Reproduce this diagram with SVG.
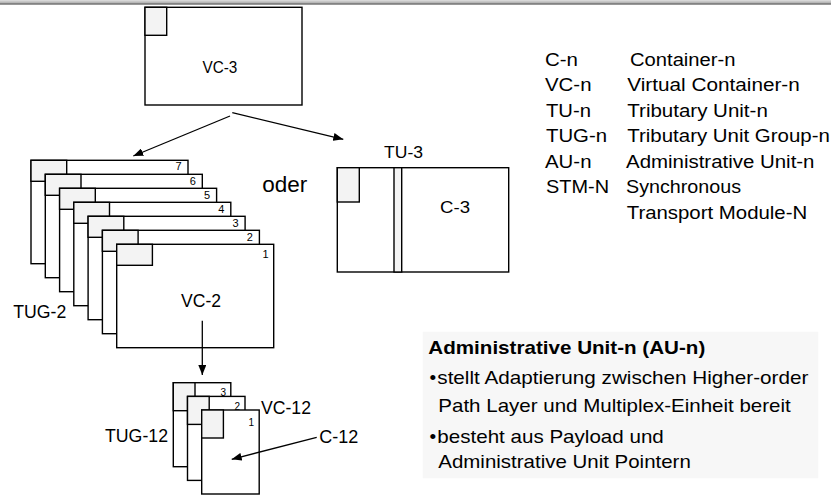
<svg xmlns="http://www.w3.org/2000/svg" xmlns:xlink="http://www.w3.org/1999/xlink" width="831" height="496" viewBox="0 0 831 496">
<style>
.frame{fill:#fff;stroke:#000;stroke-width:1.4}
.ptr{fill:#f3f3f3;stroke:#000;stroke-width:1.4}
.t{font-family:"Liberation Sans",Arial,sans-serif;fill:#000}
.num{font-family:"Liberation Sans",Arial,sans-serif;fill:#000;text-anchor:end}
.conn{stroke:#000;stroke-width:1.3;fill:none;marker-end:url(#ah)}
</style>
<defs>
<linearGradient id="topbar" x1="0" y1="0" x2="0" y2="1">
<stop offset="0" stop-color="#e0e0e0"/>
<stop offset="1" stop-color="#a8a8a8"/>
</linearGradient>
<marker id="ah" markerUnits="userSpaceOnUse" markerWidth="10" markerHeight="8" refX="10" refY="4" orient="auto">
<path d="M0,0 L10,4 L0,8 z" fill="#000"/>
</marker>
<g id="vc2f"><rect class="frame" x="0" y="0" width="157" height="103.4"/><rect class="ptr" x="0" y="0" width="35.7" height="21"/></g>
<g id="vc12f"><rect class="frame" x="0" y="0" width="57.5" height="84"/><rect class="ptr" x="0" y="0" width="21.7" height="28"/></g>
</defs>
<rect x="0" y="0" width="831" height="3.5" fill="url(#topbar)"/>
<line x1="0" y1="4" x2="831" y2="4" stroke="#333" stroke-width="1"/>

<g id="vc3">
<rect class="frame" x="145" y="7.3" width="157" height="97.7"/>
<rect class="ptr" x="145" y="7.3" width="21.7" height="28"/>
<text class="t" transform="translate(202.5,73) scale(0.9,1)" x="0" y="0" font-size="17">VC-3</text>
</g>

<g id="tu3">
<rect class="frame" x="337.3" y="167.7" width="171.4" height="104.3"/>
<rect class="ptr" x="337.3" y="167.7" width="22" height="34.3"/>
<rect class="ptr" x="394" y="167.7" width="7.7" height="104.3"/>
<text class="t" x="384" y="158.3" font-size="16.5" textLength="39" lengthAdjust="spacingAndGlyphs">TU-3</text>
<text class="t" x="440" y="213.3" font-size="16.5" textLength="30" lengthAdjust="spacingAndGlyphs">C-3</text>
</g>

<g id="oder">
<text class="t" x="262.3" y="191.7" font-size="22" textLength="45" lengthAdjust="spacingAndGlyphs">oder</text>
</g>

<g id="tug2">
<use xlink:href="#vc2f" x="31" y="160.3"/>
<use xlink:href="#vc2f" x="45.3" y="174.3"/>
<use xlink:href="#vc2f" x="59.6" y="188.3"/>
<use xlink:href="#vc2f" x="73.8" y="202.3"/>
<use xlink:href="#vc2f" x="88.1" y="216.3"/>
<use xlink:href="#vc2f" x="102.4" y="230.3"/>
<use xlink:href="#vc2f" x="116.7" y="244.3"/>
<text class="num" x="181.5" y="170.3" font-size="11">7</text>
<text class="num" x="195.8" y="184.6" font-size="11">6</text>
<text class="num" x="210.1" y="198.6" font-size="11">5</text>
<text class="num" x="224.3" y="212.6" font-size="11">4</text>
<text class="num" x="238.6" y="226.6" font-size="11">3</text>
<text class="num" x="252.9" y="240.6" font-size="11">2</text>
<text class="num" x="268.7" y="258.3" font-size="11">1</text>
<text class="t" x="181" y="307.3" font-size="17.5" textLength="40" lengthAdjust="spacingAndGlyphs">VC-2</text>
<text class="t" x="13.3" y="317.7" font-size="18" textLength="53" lengthAdjust="spacingAndGlyphs">TUG-2</text>
</g>

<g id="tug12">
<use xlink:href="#vc12f" x="173.3" y="382.7"/>
<use xlink:href="#vc12f" x="187.5" y="396.4"/>
<use xlink:href="#vc12f" x="201.7" y="410"/>
<text class="num" x="226" y="396.3" font-size="10">3</text>
<text class="num" x="240" y="410" font-size="10">2</text>
<text class="num" x="254" y="426" font-size="10">1</text>
<text class="t" x="105" y="441.7" font-size="18" textLength="63" lengthAdjust="spacingAndGlyphs">TUG-12</text>
<text class="t" x="261" y="414" font-size="18" textLength="50" lengthAdjust="spacingAndGlyphs">VC-12</text>
<text class="t" x="319.3" y="443.3" font-size="18" textLength="39" lengthAdjust="spacingAndGlyphs">C-12</text>
</g>

<g id="connectors">
<line class="conn" x1="230" y1="116" x2="133.3" y2="156"/>
<line class="conn" x1="232.3" y1="112.7" x2="343.3" y2="139.3"/>
<line class="conn" x1="202.3" y1="320.7" x2="202.3" y2="375"/>
<line class="conn" x1="316.7" y1="437.3" x2="231.7" y2="459.3"/>
</g>

<g id="legend" font-size="17.5">
<text class="t" x="545" y="65.5" textLength="33" lengthAdjust="spacingAndGlyphs">C-n</text>
<text class="t" x="545" y="91" textLength="46.5" lengthAdjust="spacingAndGlyphs">VC-n</text>
<text class="t" x="546" y="116.5" textLength="45" lengthAdjust="spacingAndGlyphs">TU-n</text>
<text class="t" x="546" y="142" textLength="61" lengthAdjust="spacingAndGlyphs">TUG-n</text>
<text class="t" x="545" y="167.5" textLength="46.5" lengthAdjust="spacingAndGlyphs">AU-n</text>
<text class="t" x="546" y="193" textLength="63" lengthAdjust="spacingAndGlyphs">STM-N</text>
<text class="t" x="630" y="65.5" textLength="105.5" lengthAdjust="spacingAndGlyphs">Container-n</text>
<text class="t" x="627.3" y="91" textLength="172.5" lengthAdjust="spacingAndGlyphs">Virtual Container-n</text>
<text class="t" x="627.3" y="116.5" textLength="140.5" lengthAdjust="spacingAndGlyphs">Tributary Unit-n</text>
<text class="t" x="627.3" y="142" textLength="202.5" lengthAdjust="spacingAndGlyphs">Tributary Unit Group-n</text>
<text class="t" x="626" y="167.5" textLength="188.5" lengthAdjust="spacingAndGlyphs">Administrative Unit-n</text>
<text class="t" x="626" y="193" textLength="115" lengthAdjust="spacingAndGlyphs">Synchronous</text>
<text class="t" x="626.7" y="218.5" textLength="180.5" lengthAdjust="spacingAndGlyphs">Transport Module-N</text>
</g>

<g id="textbox" font-size="19">
<rect x="422.7" y="331.7" width="395.6" height="146.6" fill="#f7f7f7"/>
<text class="t" x="428.3" y="354" font-weight="bold" textLength="277" lengthAdjust="spacingAndGlyphs">Administrative Unit-n (AU-n)</text>
<text class="t" x="429.5" y="384">•</text>
<text class="t" x="437.3" y="384" textLength="371" lengthAdjust="spacingAndGlyphs">stellt Adaptierung zwischen Higher-order</text>
<text class="t" x="438.3" y="411.7" textLength="352.5" lengthAdjust="spacingAndGlyphs">Path Layer und Multiplex-Einheit bereit</text>
<text class="t" x="429.5" y="442.7">•</text>
<text class="t" x="437.3" y="442.7" textLength="226.5" lengthAdjust="spacingAndGlyphs">besteht aus Payload und</text>
<text class="t" x="438.3" y="468.3" textLength="252.5" lengthAdjust="spacingAndGlyphs">Administrative Unit Pointern</text>
</g>
</svg>
